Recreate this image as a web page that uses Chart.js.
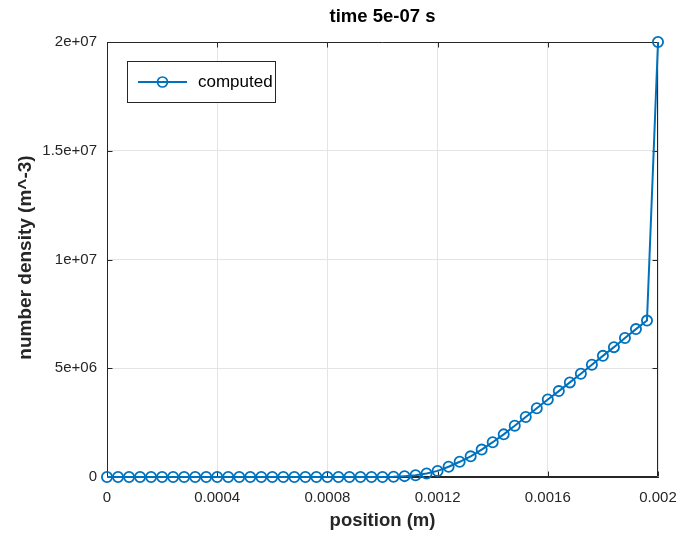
<!DOCTYPE html>
<html>
<head>
<meta charset="utf-8">
<script src="https://cdn.jsdelivr.net/npm/chart.js@4/dist/chart.umd.min.js"></script>
<style>
  html, body { margin: 0; padding: 0; background: #fff; }
  #wrap { width: 682px; height: 539px; position: relative; }
</style>
</head>
<body>
<div id="wrap"><canvas id="c" width="682" height="539"></canvas></div>
<script>
// Grid positions (m)
const positions = [
  0, 0.00004, 0.00008, 0.00012, 0.00016, 0.0002, 0.00024, 0.00028, 0.00032, 0.00036,
  0.0004, 0.00044, 0.00048, 0.00052, 0.00056, 0.0006, 0.00064, 0.00068, 0.00072, 0.00076,
  0.0008, 0.00084, 0.00088, 0.00092, 0.00096, 0.001, 0.00104, 0.00108, 0.00112, 0.00116,
  0.0012, 0.00124, 0.00128, 0.00132, 0.00136, 0.0014, 0.00144, 0.00148, 0.00152, 0.00156,
  0.0016, 0.00164, 0.00168, 0.00172, 0.00176, 0.0018, 0.00184, 0.00188, 0.00192, 0.00196,
  0.002
];

// Computed number density (m^-3) at each position
const density = [
  0, 0, 0, 0, 0, 0, 0, 0, 0, 0,
  0, 0, 0, 0, 0, 0, 0, 0, 0, 0,
  0, 0, 0, 0, 0, 0, 10000, 40000, 80000, 160000,
  280000, 470000, 700000, 950000, 1260000, 1600000, 1960000, 2360000, 2760000, 3160000,
  3560000, 3950000, 4350000, 4750000, 5160000, 5570000, 5970000, 6390000, 6800000, 7190000,
  20000000
];

const xTicks = [0, 0.0004, 0.0008, 0.0012, 0.0016, 0.002];
const xTickLabels = ['0', '0.0004', '0.0008', '0.0012', '0.0016', '0.002'];
const yTicks = [0, 5e6, 1e7, 1.5e7, 2e7];
const yTickLabels = ['0', '5e+06', '1e+07', '1.5e+07', '2e+07'];

const titleText = 'time 5e-07 s';
const xTitle = 'position (m)';
const yTitle = 'number density (m^-3)';
const seriesName = 'computed';

const FONT = '"Liberation Sans", Arial, Helvetica, sans-serif';
const AXIS_COLOR = '#262626';
const LINE_COLOR = '#0072BD';

// Box around the axes plus inward tick marks on all four sides
const framePlugin = {
  id: 'frame',
  beforeDatasetsDraw(chart) {
    const { ctx, chartArea: a, scales } = chart;
    ctx.save();
    ctx.strokeStyle = AXIS_COLOR;
    ctx.lineWidth = 1;
    const L = Math.round(a.left) + 0.5, R = Math.round(a.right) - 0.5;
    const T = Math.round(a.top) + 0.5, B = Math.round(a.bottom) - 0.5;
    ctx.beginPath();
    ctx.moveTo(L, T); ctx.lineTo(R, T); ctx.lineTo(R, B); ctx.lineTo(L, B); ctx.closePath();
    const len = 5;
    xTicks.forEach(v => {
      const px = Math.round(scales.x.getPixelForValue(v)) + 0.5;
      ctx.moveTo(px, B); ctx.lineTo(px, B - len);
      ctx.moveTo(px, T); ctx.lineTo(px, T + len);
    });
    yTicks.forEach(v => {
      const py = Math.round(scales.y.getPixelForValue(v)) + 0.5;
      ctx.moveTo(L, py); ctx.lineTo(L + len, py);
      ctx.moveTo(R, py); ctx.lineTo(R - len, py);
    });
    ctx.stroke();
    ctx.restore();
  }
};

// Title, axis labels and the legend box
const textPlugin = {
  id: 'texts',
  afterDraw(chart) {
    const { ctx, chartArea: a } = chart;
    const cx = (a.left + a.right) / 2;
    ctx.save();
    ctx.fillStyle = '#000';
    ctx.textAlign = 'center';
    ctx.textBaseline = 'middle';
    ctx.font = 'bold 18.5px ' + FONT;
    ctx.fillText(titleText, cx, 17);

    ctx.fillStyle = AXIS_COLOR;
    ctx.fillText(xTitle, cx, 521);

    ctx.save();
    ctx.translate(26, (a.top + a.bottom) / 2 - 2);
    ctx.rotate(-Math.PI / 2);
    ctx.font = 'bold 19px ' + FONT;
    ctx.fillText(yTitle, 0, 0);
    ctx.restore();

    // legend
    const bx = 127.5, by = 61.5, bw = 148, bh = 41;
    ctx.fillStyle = '#fff';
    ctx.fillRect(bx, by, bw, bh);
    ctx.strokeStyle = AXIS_COLOR;
    ctx.lineWidth = 1;
    ctx.strokeRect(bx, by, bw, bh);
    const ly = by + bh / 2;
    ctx.strokeStyle = LINE_COLOR;
    ctx.lineWidth = 2;
    ctx.beginPath();
    ctx.moveTo(138, ly); ctx.lineTo(187, ly);
    ctx.stroke();
    ctx.lineWidth = 1.7;
    ctx.beginPath();
    ctx.arc(162.5, ly, 5, 0, Math.PI * 2);
    ctx.stroke();
    ctx.fillStyle = '#000';
    ctx.textAlign = 'left';
    ctx.font = '17px ' + FONT;
    ctx.fillText(seriesName, 198, ly);
    ctx.restore();
  }
};

const points = positions.map((x, i) => ({ x: x, y: density[i] }));

new Chart(document.getElementById('c'), {
  type: 'scatter',
  data: {
    datasets: [{
      label: seriesName,
      data: points,
      showLine: true,
      borderColor: LINE_COLOR,
      borderWidth: 2,
      tension: 0,
      pointStyle: 'circle',
      pointRadius: 5.1,
      pointBorderWidth: 1.8,
      pointBorderColor: LINE_COLOR,
      pointBackgroundColor: 'rgba(0,0,0,0)',
      clip: false
    }]
  },
  options: {
    responsive: false,
    devicePixelRatio: 1,
    animation: false,
    layout: { padding: { left: 0, right: 24, top: 42, bottom: 0 } },
    plugins: {
      legend: { display: false },
      title: { display: false },
      tooltip: { enabled: false }
    },
    scales: {
      x: {
        type: 'linear',
        min: 0,
        max: 0.002,
        afterBuildTicks: s => { s.ticks = xTicks.map(v => ({ value: v })); },
        afterFit: s => { s.height = 62; s.paddingLeft = 0; s.paddingRight = 0; },
        ticks: {
          callback: (v, i) => xTickLabels[i],
          font: { family: FONT, size: 15 },
          color: AXIS_COLOR,
          padding: 12,
          maxRotation: 0,
          autoSkip: false
        },
        grid: { color: '#e4e4e4', drawTicks: false },
        border: { color: AXIS_COLOR, width: 1 }
      },
      y: {
        type: 'linear',
        min: 0,
        max: 2e7,
        afterBuildTicks: s => { s.ticks = yTicks.map(v => ({ value: v })); },
        afterFit: s => { s.width = 107; s.paddingTop = 0; s.paddingBottom = 0; },
        ticks: {
          callback: (v, i) => yTickLabels[i],
          font: { family: FONT, size: 15 },
          color: AXIS_COLOR,
          padding: 10,
          autoSkip: false
        },
        grid: { color: '#e4e4e4', drawTicks: false },
        border: { color: AXIS_COLOR, width: 1 }
      }
    }
  },
  plugins: [framePlugin, textPlugin]
});
</script>
</body>
</html>
